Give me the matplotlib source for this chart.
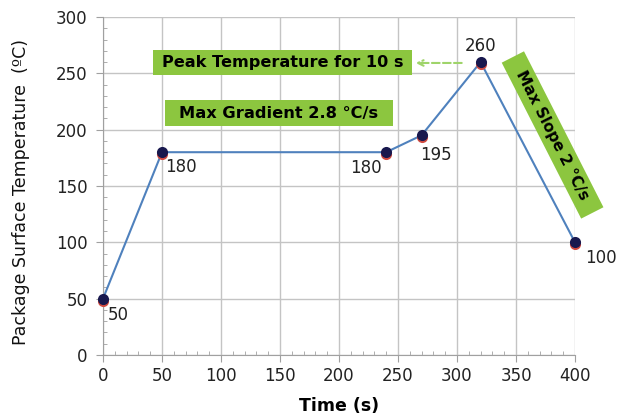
import matplotlib
matplotlib.use("Agg")
import matplotlib.pyplot as plt
from matplotlib.ticker import MultipleLocator
from matplotlib.patches import Rectangle
from matplotlib.transforms import offset_copy, IdentityTransform

time_s = [0, 50, 240, 270, 320, 400]
temp_c = [50, 180, 180, 195, 260, 100]
point_labels = ["50", "180", "180", "195", "260", "100"]
# offsets of the value labels (points): left edge / vertical centre
label_offsets = [(3.6, -11.5), (2, -11), (-26, -11.5), (-1, -14), (-11.5, 11.5), (7, -11)]

peak_text = "Peak Temperature for 10 s"
gradient_text = "Max Gradient 2.8 °C/s"
slope_text = "Max Slope 2 °C/s"

green = "#8cc63f"


def main():
    fig = plt.figure(figsize=(6.18, 4.16), dpi=100)
    ax = fig.add_axes([103 / 618, 1 - 355 / 416, 472 / 618, 338 / 416])

    ax.set_xlim(0, 400)
    ax.set_ylim(0, 300)
    ax.xaxis.set_major_locator(MultipleLocator(50))
    ax.yaxis.set_major_locator(MultipleLocator(50))
    ax.xaxis.set_minor_locator(MultipleLocator(10))
    ax.yaxis.set_minor_locator(MultipleLocator(10))
    ax.grid(True, which="major", color="#c4c4c4", linewidth=1.0)
    ax.set_axisbelow(True)
    for side in ["top", "right"]:
        ax.spines[side].set_visible(False)
    ax.spines["left"].set_color("#a0a0a0")
    ax.spines["bottom"].set_color("#a0a0a0")
    ax.tick_params(which="major", length=5, color="#a0a0a0", labelsize=12, labelcolor="#222222")
    ax.tick_params(axis="y", which="major", pad=6)
    ax.tick_params(which="minor", length=3, direction="in", color="#a0a0a0")

    ax.plot(time_s, temp_c, color="#4f81bd", linewidth=1.5, zorder=3)
    # marker: dark navy ball with a red rim at the bottom
    low = offset_copy(ax.transData, fig=fig, x=0, y=-2, units="dots")
    ax.plot(time_s, temp_c, linestyle="none", marker="o", markersize=8,
            color="#d04a40", markeredgewidth=0, zorder=4, transform=low, clip_on=False)
    ax.plot(time_s, temp_c, linestyle="none", marker="o", markersize=8,
            color="#18184e", markeredgewidth=0, zorder=5, clip_on=False)

    for x, y, txt, off in zip(time_s, temp_c, point_labels, label_offsets):
        ax.annotate(txt, (x, y), xytext=off, textcoords="offset points",
                    fontsize=12, color="#222222", ha="left", va="center",
                    annotation_clip=False)

    # horizontal green boxes
    ax.add_patch(Rectangle((42, 248.5), 220, 22.2, facecolor=green, edgecolor="none", zorder=2))
    ax.text(152, 259.4, peak_text, fontsize=11.6, fontweight="bold",
            ha="center", va="center", zorder=6)
    ax.add_patch(Rectangle((52.5, 203), 193.5, 23, facecolor=green, edgecolor="none", zorder=2))
    ax.text(149, 214.3, gradient_text, fontsize=11.7, fontweight="bold",
            ha="center", va="center", zorder=6)

    # rotated box, drawn in pixels around its centre
    cx, cy = ax.transData.transform((381, 195.3))
    w, h = 175, 25
    ax.add_patch(Rectangle((cx - w / 2, cy - h / 2), w, h, angle=-63, rotation_point="center",
                           facecolor=green, edgecolor="none", transform=IdentityTransform(),
                           zorder=2, clip_on=False))
    ax.text(381, 195.3, slope_text, fontsize=11, fontweight="bold",
            ha="center", va="center", rotation=-63, rotation_mode="anchor",
            zorder=6, clip_on=False)

    ax.annotate("", xy=(265, 259.2), xytext=(304, 259.2),
                arrowprops=dict(arrowstyle="->", color="#9fd46a", linestyle="--",
                                linewidth=1.5, shrinkA=0, shrinkB=0))

    ax.set_xlabel("Time (s)", fontsize=12.5, fontweight="bold", labelpad=9)
    ax.set_ylabel("Package Surface Temperature  (ºC)", fontsize=12.5, color="#111111")
    ax.yaxis.set_label_coords(-0.155, 0.482)

    fig.savefig("out.png", dpi=100)


main()
